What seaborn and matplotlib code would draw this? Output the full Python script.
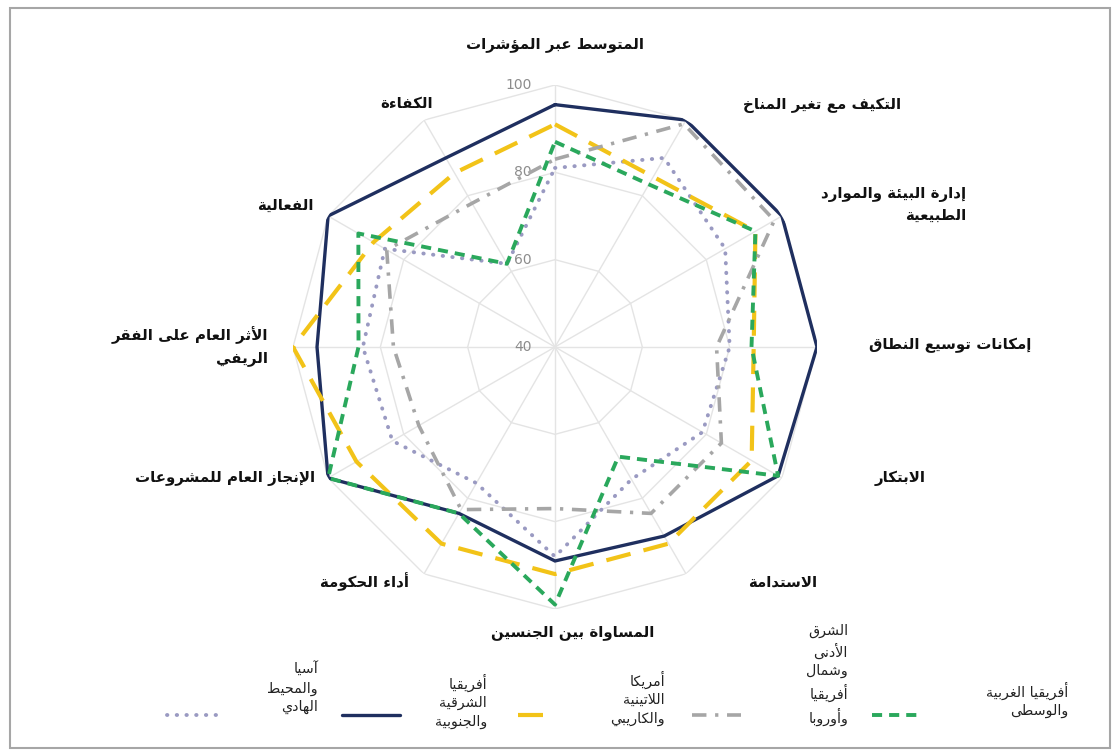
import numpy as np
import pandas as pd
import matplotlib
matplotlib.use("Agg")
import matplotlib.pyplot as plt
import seaborn as sns
from matplotlib.lines import Line2D
from matplotlib.patches import Rectangle

# ---------------- data ----------------
categories = [
    "المتوسط عبر المؤشرات",
    "التكيف مع تغير المناخ",
    "إدارة البيئة والموارد\nالطبيعية",
    "إمكانات توسيع النطاق",
    "الابتكار",
    "الاستدامة",
    "المساواة بين الجنسين",
    "أداء الحكومة",
    "الإنجاز العام للمشروعات",
    "الأثر العام على الفقر\nالريفي",
    "الفعالية",
    "الكفاءة",
]
series_names = [
    "آسيا\nوالمحيط\nالهادي",
    "أفريقيا\nالشرقية\nوالجنوبية",
    "أمريكا\nاللاتينية\nوالكاريبي",
    "الشرق\nالأدنى\nوشمال\nأفريقيا\nوأوروبا",
    "أفريقيا الغربية\nوالوسطى",
]
asia_pacific = [81, 90, 85, 80, 79, 75, 88, 76, 83, 84, 85, 62]
east_south_africa = [95.5, 100, 100, 100, 99, 90, 89, 84, 100, 94.5, 100, 90]
latin_america = [91, 85, 93, 85.5, 92, 92, 92, 92, 92.5, 100, 88, 86]
near_east_europe = [83, 99, 98, 77, 84, 84, 77, 83, 76, 77, 84.5, 78]
west_central_africa = [87, 83, 93, 85, 99, 69, 99, 84, 100, 85, 92, 62]
radial_ticks = [40, 60, 80, 100]

# ------------- Arabic shaping (presentation forms + visual order) -------------
_TABLE = [
    (0x0621, 0xFE80, 1), (0x0622, 0xFE81, 2), (0x0623, 0xFE83, 2), (0x0624, 0xFE85, 2),
    (0x0625, 0xFE87, 2), (0x0626, 0xFE89, 4), (0x0627, 0xFE8D, 2), (0x0628, 0xFE8F, 4),
    (0x0629, 0xFE93, 2), (0x062A, 0xFE95, 4), (0x062B, 0xFE99, 4), (0x062C, 0xFE9D, 4),
    (0x062D, 0xFEA1, 4), (0x062E, 0xFEA5, 4), (0x062F, 0xFEA9, 2), (0x0630, 0xFEAB, 2),
    (0x0631, 0xFEAD, 2), (0x0632, 0xFEAF, 2), (0x0633, 0xFEB1, 4), (0x0634, 0xFEB5, 4),
    (0x0635, 0xFEB9, 4), (0x0636, 0xFEBD, 4), (0x0637, 0xFEC1, 4), (0x0638, 0xFEC5, 4),
    (0x0639, 0xFEC9, 4), (0x063A, 0xFECD, 4), (0x0641, 0xFED1, 4), (0x0642, 0xFED5, 4),
    (0x0643, 0xFED9, 4), (0x0644, 0xFEDD, 4), (0x0645, 0xFEE1, 4), (0x0646, 0xFEE5, 4),
    (0x0647, 0xFEE9, 4), (0x0648, 0xFEED, 2), (0x0649, 0xFEEF, 2), (0x064A, 0xFEF1, 4),
]
FORMS = {chr(a): (b, n) for a, b, n in _TABLE}
LAMALEF = {"\u0622": (0xFEF5, 0xFEF6), "\u0623": (0xFEF7, 0xFEF8),
           "\u0625": (0xFEF9, 0xFEFA), "\u0627": (0xFEFB, 0xFEFC)}


def _shape_line(text):
    out = []
    chars = list(text)
    n = len(chars)
    i = 0
    prev = None
    while i < n:
        c = chars[i]
        if c not in FORMS:
            out.append(c)
            prev = None
            i += 1
            continue
        prev_j = prev is not None and FORMS[prev][1] == 4
        if c == "\u0644" and i + 1 < n and chars[i + 1] in LAMALEF:
            iso, fin = LAMALEF[chars[i + 1]]
            out.append(chr(fin if prev_j else iso))
            prev = "\u0627"
            i += 2
            continue
        start, nf = FORMS[c]
        next_j = nf == 4 and i + 1 < n and chars[i + 1] in FORMS and chars[i + 1] != "\u0621"
        if nf == 1:
            form = 0
        elif prev_j and next_j:
            form = 3
        elif prev_j:
            form = 1
        elif next_j:
            form = 2
        else:
            form = 0
        out.append(chr(start + form))
        prev = c
        i += 1
    return "".join(reversed(out))


def ar(text):
    return "\n".join(_shape_line(l) for l in text.split("\n"))


# ---------------- figure ----------------
sns.set_theme(style="white")
plt.rcParams["font.family"] = ["DejaVu Sans"]

W, H = 1117, 751
fig = plt.figure(figsize=(W / 100, H / 100), dpi=100)
fig.patch.set_facecolor("white")


def fx(x):
    return x / W


def fy(y):
    return 1 - y / H


cx, cy, R = 555, 347, 262
ax = fig.add_axes([fx(cx - R), fy(cy + R), 2 * R / W, 2 * R / H], projection="polar")
ax.set_theta_zero_location("N")
ax.set_theta_direction(-1)
ax.grid(False)
ax.spines["polar"].set_visible(False)
ax.patch.set_alpha(0)

n = len(categories)
theta = np.linspace(0, 2 * np.pi, n, endpoint=False)
theta_c = np.append(theta, 2 * np.pi)

grid_col = "#e4e4e4"
for r in radial_ticks[1:]:
    ax.plot(theta_c, [r] * (n + 1), color=grid_col, lw=1.0, zorder=0)
for t in theta:
    ax.plot([t, t], [radial_ticks[0], radial_ticks[-1]], color=grid_col, lw=1.0, zorder=0)

styles = [
    dict(color="#9a9ac2", lw=2.8, dashes=(0.1, 2.4), cap="round"),
    dict(color="#1f2f5f", lw=2.4, dashes=None, cap="round"),
    dict(color="#f2c318", lw=3.0, dashes=(6.0, 3.2), cap="butt"),
    dict(color="#a6a6a6", lw=2.6, dashes=(4.0, 2.4, 0.9, 2.4), cap="butt"),
    dict(color="#2aa85c", lw=2.8, dashes=(2.6, 1.8), cap="butt"),
]
all_series = [asia_pacific, east_south_africa, latin_america, near_east_europe, west_central_africa]

rows = []
for name, vals in zip(series_names, all_series):
    for t, v in zip(theta_c, list(vals) + [vals[0]]):
        rows.append({"region": name, "theta": t, "value": v})
df = pd.DataFrame(rows)

for k, name in enumerate(series_names):
    st = styles[k]
    sub = df[df["region"] == name]
    sns.lineplot(data=sub, x="theta", y="value", ax=ax, color=st["color"],
                 linewidth=st["lw"], sort=False, estimator=None, legend=False, zorder=3 + k)
    line = ax.lines[-1]
    if st["dashes"] is not None:
        line.set_dashes(st["dashes"])
    line.set_dash_capstyle(st["cap"])
    line.set_solid_capstyle("round")
    line.set_solid_joinstyle("miter")

ax.set_ylim(radial_ticks[0], radial_ticks[-1])
ax.set_xticks([])
ax.set_yticks([])
ax.set_xlabel("")
ax.set_ylabel("")

for r in radial_ticks:
    ax.annotate(str(r), xy=(0, r), xytext=(-17, 0), textcoords="offset points",
                ha="right", va="center", color="#8c8c8c", fontsize=10)

# category labels (pixel anchors)
label_pos = [
    (555, 45, "center"), (822, 105, "center"), (966, 205, "right"),
    (950, 345, "center"), (900, 478, "center"), (783, 582, "center"),
    (573, 633, "center"), (365, 582, "center"), (225, 478, "center"),
    (268, 346, "right"), (285, 205, "center"), (407, 103, "center"),
]
for cat, (x, y, ha) in zip(categories, label_pos):
    fig.text(fx(x), fy(y), ar(cat), ha=ha, va="center", multialignment="right",
             fontsize=10.8, fontweight="bold", color="#111111", linespacing=1.45)

# legend
leg_lines = [(167, 225), (342, 400), (518, 556), (692, 741), (872, 922)]
leg_text = [(318, 688), (487, 701), (665, 698), (848, 675), (1068, 700)]
for k, name in enumerate(series_names):
    st = styles[k]
    x0, x1 = leg_lines[k]
    ln = Line2D([fx(x0), fx(x1)], [fy(715), fy(715)], transform=fig.transFigure,
                color=st["color"], lw=st["lw"])
    if st["dashes"] is not None:
        ln.set_dashes(st["dashes"])
    ln.set_dash_capstyle(st["cap"])
    fig.add_artist(ln)
    tx, ty = leg_text[k]
    fig.text(fx(tx), fy(ty), ar(name), ha="right", va="center", multialignment="right",
             fontsize=10.3, color="#222222", linespacing=1.4)

# chart border
fig.add_artist(Rectangle((fx(10), fy(748)), fx(1110) - fx(10), fy(8) - fy(748),
                         transform=fig.transFigure, fill=False, edgecolor="#a6a6a6", lw=1.5))

fig.savefig("out.png", dpi=100, facecolor="white")
